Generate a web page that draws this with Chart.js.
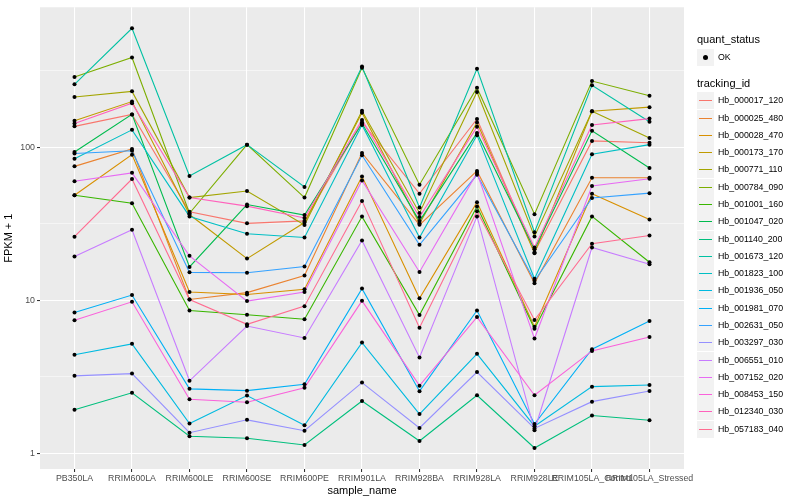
<!DOCTYPE html>
<html>
<head>
<meta charset="utf-8">
<script src="https://cdn.jsdelivr.net/npm/chart.js@4/dist/chart.umd.min.js"></script>
<style>
  body { margin: 0; background: #ffffff; }
  #wrap { position: relative; width: 800px; height: 500px; font-family: "Liberation Sans", Arial, sans-serif; }
  #chart { position: absolute; left: 0; top: 0; }
  .lg-title { position: absolute; left: 697px; font-size: 11px; color: #000; }
  .lg-key { position: absolute; left: 697px; width: 17px; height: 17px; background: #f2f2f2; }
  .lg-text { position: absolute; left: 718px; font-size: 8.8px; color: #000; line-height: 17px; white-space: nowrap; }
</style>
</head>
<body>
<div id="wrap">
  <canvas id="chart" width="800" height="500"></canvas>
  <div id="legend"></div>
</div>
<script>
// Categories (x axis)
const categories = ['PB350LA', 'RRIM600LA', 'RRIM600LE', 'RRIM600SE', 'RRIM600PE', 'RRIM901LA',
  'RRIM928BA', 'RRIM928LA', 'RRIM928LE', 'RRIM105LA_Control', 'RRIM105LA_Stressed'];

// FPKM + 1 per tracking_id
const hb_000017_120 = [137, 164, 37.8, 31.8, 33, 146, 49.7, 153, 20.6, 110, 107];
const hb_000025_480 = [75, 97.5, 10.1, 11.2, 14.5, 91.8, 31.1, 70, 12.9, 63.2, 63.2];
const hb_000028_470 = [48.5, 89.5, 11.3, 10.9, 11.8, 64.5, 10.3, 43.7, 6.7, 49.7, 33.7];
const hb_000173_170 = [149, 199, 36.3, 18.7, 32.2, 168, 31.7, 145, 20.3, 172, 183];
const hb_000771_110 = [213, 232, 46.9, 51.8, 31, 173, 37.2, 230, 26.1, 172, 115];
const hb_000784_090 = [288, 386, 37, 104, 46.9, 331, 56.9, 245, 36.5, 271, 217];
const hb_001001_160 = [48.5, 43, 8.57, 8.03, 7.51, 35.2, 8.0, 41, 6.5, 35.3, 17.7];
const hb_001047_020 = [93, 164, 16.5, 42.2, 36, 143, 32.9, 124, 21.5, 128, 73.1];
const hb_001140_200 = [1.92, 2.48, 1.29, 1.25, 1.13, 2.19, 1.20, 2.39, 1.08, 1.76, 1.64];
const hb_001673_120 = [258, 600, 64.8, 104, 55, 337, 40.4, 326, 27.8, 254, 147];
const hb_001823_100 = [84, 130, 35.3, 27.2, 25.7, 140, 25.7, 120, 13.8, 90, 104];
const hb_001936_050 = [4.4, 5.18, 1.56, 2.38, 1.52, 5.28, 1.80, 4.46, 1.5, 2.72, 2.79];
const hb_001981_070 = [8.3, 10.8, 2.63, 2.56, 2.82, 11.9, 2.54, 8.56, 1.55, 4.78, 7.3];
const hb_002631_050 = [91, 94.8, 15.2, 15.1, 16.6, 88.6, 23.0, 66, 13.4, 46.6, 50.1];
const hb_003297_030 = [3.2, 3.31, 1.36, 1.65, 1.40, 2.89, 1.46, 3.39, 1.45, 2.17, 2.55];
const hb_006551_010 = [19.3, 28.9, 2.97, 6.78, 5.66, 24.6, 4.22, 35.3, 1.41, 22.1, 17.2];
const hb_007152_020 = [60, 68, 19.5, 9.86, 11.3, 60.7, 15.3, 68, 5.61, 55.8, 62.2];
const hb_008453_150 = [7.4, 9.76, 2.25, 2.15, 2.67, 9.9, 2.76, 7.75, 2.39, 4.66, 5.75];
const hb_012340_030 = [143, 194, 46.9, 41.2, 34.5, 151, 35, 136, 22.1, 140, 154];
const hb_057183_040 = [26, 62, 10.1, 6.95, 9.14, 44.6, 6.61, 38.2, 7.41, 23.4, 26.5];

const seriesNames = ['Hb_000017_120', 'Hb_000025_480', 'Hb_000028_470', 'Hb_000173_170', 'Hb_000771_110',
  'Hb_000784_090', 'Hb_001001_160', 'Hb_001047_020', 'Hb_001140_200', 'Hb_001673_120',
  'Hb_001823_100', 'Hb_001936_050', 'Hb_001981_070', 'Hb_002631_050', 'Hb_003297_030',
  'Hb_006551_010', 'Hb_007152_020', 'Hb_008453_150', 'Hb_012340_030', 'Hb_057183_040'];
const seriesValues = [hb_000017_120, hb_000025_480, hb_000028_470, hb_000173_170, hb_000771_110,
  hb_000784_090, hb_001001_160, hb_001047_020, hb_001140_200, hb_001673_120,
  hb_001823_100, hb_001936_050, hb_001981_070, hb_002631_050, hb_003297_030,
  hb_006551_010, hb_007152_020, hb_008453_150, hb_012340_030, hb_057183_040];

// y axis ticks (labelled) and minor grid lines
const yTickLabels = [1, 10, 100];
const yMinorBreaks = [3.1623, 31.623, 316.23];

// ggplot hue palette, 20 levels
const palette = ['#F8766D', '#EA8331', '#D89000', '#C09B00', '#A3A500', '#7CAE00', '#39B600', '#00BB4E',
  '#00BF7D', '#00C1A3', '#00BFC4', '#00BAE0', '#00B0F6', '#35A2FF', '#9590FF', '#C77CFF',
  '#E76BF3', '#FA62DB', '#FF62BC', '#FF6C91'];

const toPoints = vals => vals.map((v, i) => ({ x: i, y: v }));

const datasets = [];
// points on top of every line
seriesValues.forEach((vals, i) => {
  datasets.push({
    label: seriesNames[i] + ' points',
    data: toPoints(vals),
    showLine: false,
    pointRadius: 2,
    pointBackgroundColor: '#000000',
    pointBorderWidth: 0,
    order: 0
  });
});
seriesValues.forEach((vals, i) => {
  datasets.push({
    label: seriesNames[i],
    data: toPoints(vals),
    showLine: true,
    borderColor: palette[i],
    borderWidth: 1.1,
    pointRadius: 0,
    tension: 0,
    order: 40 - i
  });
});

// Panel background
const panelBg = {
  id: 'panelBg',
  beforeDraw(chart) {
    const { ctx, chartArea: a } = chart;
    ctx.save();
    ctx.fillStyle = '#EBEBEB';
    ctx.fillRect(a.left, a.top, a.right - a.left, a.bottom - a.top);
    ctx.restore();
  }
};

const isMajor = v => yTickLabels.some(t => Math.abs(t - v) < 1e-6);

new Chart(document.getElementById('chart'), {
  type: 'scatter',
  data: { datasets: datasets },
  plugins: [panelBg],
  options: {
    responsive: false,
    animation: false,
    layout: { padding: { top: 4, right: 116, left: 0, bottom: 0 } },
    plugins: { legend: { display: false }, tooltip: { enabled: false } },
    scales: {
      x: {
        type: 'linear',
        min: -0.6,
        max: 10.6,
        afterBuildTicks: scale => { scale.ticks = categories.map((c, i) => ({ value: i })); },
        afterFit: scale => { scale.height = 31; },
        ticks: {
          autoSkip: false,
          maxRotation: 0,
          minRotation: 0,
          padding: 1,
          color: '#4D4D4D',
          font: { family: '"Liberation Sans", Arial, sans-serif', size: 8.8 },
          callback: v => categories[v]
        },
        grid: { color: '#FFFFFF', lineWidth: 1.07, tickLength: 3, tickColor: '#333333' },
        border: { display: false },
        title: {
          display: true,
          text: 'sample_name',
          color: '#000000',
          padding: { top: 0, bottom: 2 },
          font: { family: '"Liberation Sans", Arial, sans-serif', size: 11 }
        }
      },
      y: {
        type: 'logarithmic',
        min: 0.787,
        max: 823,
        afterBuildTicks: scale => {
          scale.ticks = yTickLabels.concat(yMinorBreaks).sort((a, b) => a - b).map(v => ({ value: v }));
        },
        afterFit: scale => { scale.width = 40; },
        ticks: {
          autoSkip: false,
          padding: 2,
          color: '#4D4D4D',
          font: { family: '"Liberation Sans", Arial, sans-serif', size: 8.8 },
          callback: v => isMajor(v) ? String(Math.round(v)) : ''
        },
        grid: {
          color: '#FFFFFF',
          lineWidth: ctx => isMajor(ctx.tick.value) ? 1.07 : 0.53,
          tickLength: 3,
          tickColor: ctx => isMajor(ctx.tick.value) ? '#333333' : 'rgba(0,0,0,0)'
        },
        border: { display: false },
        title: {
          display: true,
          text: 'FPKM + 1',
          color: '#000000',
          padding: { top: 2, bottom: 0 },
          font: { family: '"Liberation Sans", Arial, sans-serif', size: 11 }
        }
      }
    }
  }
});

// Legend (two guides as in ggplot)
const legend = document.getElementById('legend');
function addEl(cls, top, text) {
  const el = document.createElement('div');
  el.className = cls;
  el.style.top = top + 'px';
  if (text) el.textContent = text;
  legend.appendChild(el);
  return el;
}
addEl('lg-title', 33, 'quant_status');
const okKey = addEl('lg-key', 49);
okKey.innerHTML = '<div style="position:absolute;left:6px;top:6px;width:5px;height:5px;border-radius:50%;background:#000"></div>';
addEl('lg-text', 49, 'OK');
addEl('lg-title', 77, 'tracking_id');
seriesNames.forEach((name, i) => {
  const top = Math.round(92.3 + i * 17.28);
  const key = addEl('lg-key', top);
  key.innerHTML = '<div style="position:absolute;left:2px;width:13px;top:8px;height:0;border-top:1px solid ' + palette[i] + '"></div>';
  addEl('lg-text', top, name);
});
</script>
</body>
</html>
